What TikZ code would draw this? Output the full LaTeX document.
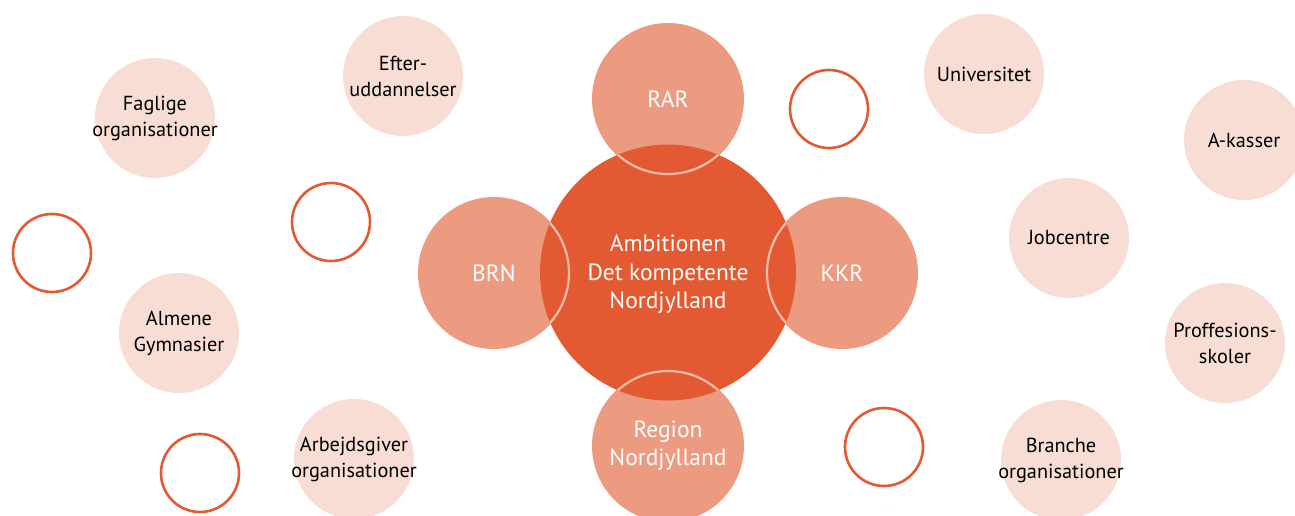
\documentclass[tikz,border=0pt]{standalone}
\usepackage{fontspec}
\setmainfont{PT Sans}
\definecolor{kerneorange}{HTML}{E35A32}
\definecolor{laksfarve}{HTML}{EC9B80}
\definecolor{lysfarve}{HTML}{F8DDD4}

\begin{document}
\begin{tikzpicture}[x=1pt,y=-1pt,
    kerne/.style={circle,fill=kerneorange,minimum size=256pt,inner sep=0pt,align=center,text=white,font=\fontsize{23.5}{28.5}\selectfont},
    aktoer/.style={circle,fill=laksfarve,minimum size=152pt,inner sep=0pt,align=center,text=white,font=\fontsize{23.5}{28}\selectfont},
    partner/.style={circle,fill=lysfarve,minimum size=120pt,inner sep=0pt,
        label={[align=center,text=black,font=\fontsize{20.3}{26}\selectfont]center:#1}},
    tom/.style={circle,draw=kerneorange,line width=2.6pt,minimum size=78pt,inner sep=0pt}]
    \useasboundingbox (0,0) rectangle (1295,515);
    % aktoerer rundt om ambitionen
    \node[aktoer] (rar) at (668,99) {RAR};
    \node[aktoer] (brn) at (494,273) {BRN};
    \node[aktoer] (kkr) at (842,273) {KKR};
    \node[aktoer] (region) at (668,446) {Region\\Nordjylland};
    \node[kerne] (ambition) at (668,272.5) {};
    % kanter af aktoererne inde i ambitionen
    \begin{scope}
    \clip (668,272.5) circle (128);
    \foreach \a in {rar,brn,kkr,region}
        \draw[white,opacity=.6,line width=2.2pt] (\a.center) circle (75);
    \end{scope}
    \node[text=white,align=center,font=\fontsize{23.5}{28.5}\selectfont] at ([yshift=-2pt]ambition.center) {Ambitionen\\Det kompetente\\Nordjylland};
    % samarbejdspartnere
    \node[partner={Faglige\\organisationer}] (faglige) at (155,118) {};
    \node[partner={Efter-\\uddannelser}] (efter) at (403,76) {};
    \node[partner={Almene\\Gymnasier}] (almene) at (179,333) {};
    \node[partner={Arbejdsgiver\\organisationer}] (arbejdsgiver) at (354,459) {};
    \node[partner={Universitet}] (universitet) at (984,74) {};
    \node[partner={A-kasser}] (akasser) at (1244,140) {};
    \node[partner={Jobcentre}] (jobcentre) at (1069,238) {};
    \node[partner={Proffesions-\\skoler}] (proffesion) at (1225,343) {};
    \node[partner={Branche\\organisationer}] (branche) at (1061,460) {};
    % tomme ringe
    \node[tom] (tom1) at (52,253) {};
    \node[tom] (tom2) at (331,222) {};
    \node[tom] (tom3) at (200,473) {};
    \node[tom] (tom4) at (829,109) {};
    \node[tom] (tom5) at (884,447) {};
\end{tikzpicture}
\end{document}
